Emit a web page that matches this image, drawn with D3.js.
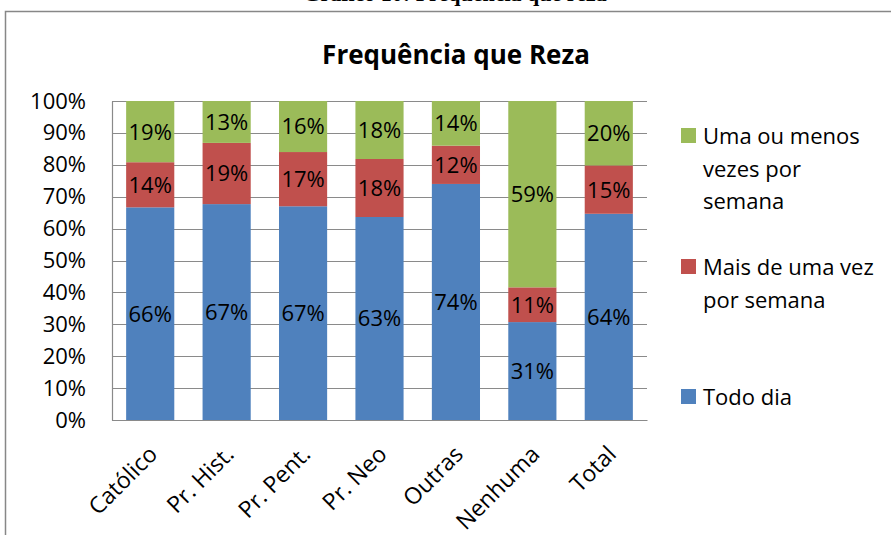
<!DOCTYPE html>
<html>
<head>
<meta charset="utf-8">
<script src="https://cdn.jsdelivr.net/npm/d3@7"></script>
<style>
  body { margin: 0; background: #fff; }
  svg { display: block; font-family: "Open Sans", Lato, sans-serif; }
  svg text { font-family: "Open Sans", Lato, sans-serif; }
</style>
</head>
<body>
<div id="chart"></div>
<script>
// chart data
const categories = ["Católico", "Pr. Hist.", "Pr. Pent.", "Pr. Neo", "Outras", "Nenhuma", "Total"];
const todoDia = [66, 67, 67, 63, 74, 31, 64];
const maisDeUmaVez = [14, 19, 17, 18, 12, 11, 15];
const umaOuMenos = [19, 13, 16, 18, 14, 59, 20];
const seriesNames = ["Todo dia", "Mais de uma vez por semana", "Uma ou menos vezes por semana"];
const yTicks = [0, 0.1, 0.2, 0.3, 0.4, 0.5, 0.6, 0.7, 0.8, 0.9, 1];

const colors = ["#4F81BD", "#C0504D", "#9BBB59"];
const W = 891, H = 535;
const plot = {left: 112, right: 647, top: 101, bottom: 420};

const svg = d3.select("#chart").append("svg")
    .attr("width", W)
    .attr("height", H);

// cut-off caption above the chart box
svg.append("text")
    .attr("x", 455).attr("y", 1)
    .attr("text-anchor", "middle")
    .style("font-family", "'Liberation Serif', serif")
    .style("font-weight", "bold")
    .style("font-size", "22px")
    .text("Gráfico 10: Frequência que reza");

// chart border
svg.append("rect")
    .attr("x", 5.5).attr("y", 11.5)
    .attr("width", W + 20).attr("height", H + 20)
    .attr("fill", "#fff")
    .attr("stroke", "#878787")
    .attr("stroke-width", 1.5);

svg.append("text")
    .attr("x", 456).attr("y", 64)
    .attr("text-anchor", "middle")
    .style("font-weight", "bold")
    .style("font-size", "26px")
    .text("Frequência que Reza");

const x = d3.scaleBand()
    .domain(categories)
    .range([plot.left, plot.right])
    .paddingInner(0.37)
    .paddingOuter(0.185);

const y = d3.scaleLinear()
    .domain([0, 1])
    .range([plot.bottom, plot.top]);

// gridlines
svg.append("g")
    .selectAll("line")
    .data(yTicks)
    .enter().append("line")
    .attr("x1", plot.left).attr("x2", plot.right)
    .attr("y1", d => Math.round(y(d)) + 0.5)
    .attr("y2", d => Math.round(y(d)) + 0.5)
    .attr("stroke", "#8a8a8a")
    .attr("stroke-width", 1.2);

// y axis
const yAxis = svg.append("g")
    .attr("transform", `translate(${plot.left},0)`)
    .call(d3.axisLeft(y).tickValues(yTicks).tickFormat(d3.format(".0%")).tickSize(0).tickPadding(26));
yAxis.select(".domain").attr("stroke", "#8a8a8a").attr("stroke-width", 1.2);
yAxis.selectAll("text").style("font-size", "22px").style("fill", "#000");

// stacked bars
const rows = categories.map((c, i) => ({cat: c, a: todoDia[i], b: maisDeUmaVez[i], c: umaOuMenos[i]}));
const stack = d3.stack().keys(["a", "b", "c"]).offset(d3.stackOffsetExpand);
const layers = stack(rows);

layers.forEach((layer, li) => {
    const g = svg.append("g");
    g.selectAll("rect")
        .data(layer)
        .enter().append("rect")
        .attr("x", d => x(d.data.cat))
        .attr("width", x.bandwidth())
        .attr("y", d => y(d[1]))
        .attr("height", d => y(d[0]) - y(d[1]))
        .attr("fill", colors[li]);
    g.selectAll("text")
        .data(layer)
        .enter().append("text")
        .attr("x", d => x(d.data.cat) + x.bandwidth() / 2)
        .attr("y", d => (y(d[0]) + y(d[1])) / 2)
        .attr("dy", "0.36em")
        .attr("text-anchor", "middle")
        .style("font-size", "22px")
        .text(d => d.data[layer.key] + "%");
});

// x axis
const xAxis = svg.append("g")
    .attr("transform", `translate(0,${plot.bottom})`)
    .call(d3.axisBottom(x).tickSize(0).tickSizeOuter(0));
xAxis.select(".domain").attr("stroke", "#8a8a8a").attr("stroke-width", 1.2);
xAxis.selectAll("text")
    .style("font-size", "23px")
    .style("fill", "#000")
    .attr("text-anchor", "end")
    .attr("transform", "translate(3,30) rotate(-45)")
    .attr("y", 0).attr("dy", "0.35em");

// legend
const legend = [
    {name: ["Uma ou menos", "vezes por", "semana"], color: colors[2], y: 128},
    {name: ["Mais de uma vez", "por semana"], color: colors[1], y: 259},
    {name: ["Todo dia"], color: colors[0], y: 389}
];
const lg = svg.append("g");
legend.forEach(l => {
    lg.append("rect")
        .attr("x", 681).attr("y", l.y)
        .attr("width", 15).attr("height", 15)
        .attr("fill", l.color);
    const t = lg.append("text")
        .attr("x", 703).attr("y", l.y + 16)
        .style("font-size", "22px");
    l.name.forEach((s, i) => {
        t.append("tspan")
            .attr("x", 703)
            .attr("dy", i === 0 ? 0 : 32.5)
            .text(s);
    });
});
</script>
</body>
</html>
